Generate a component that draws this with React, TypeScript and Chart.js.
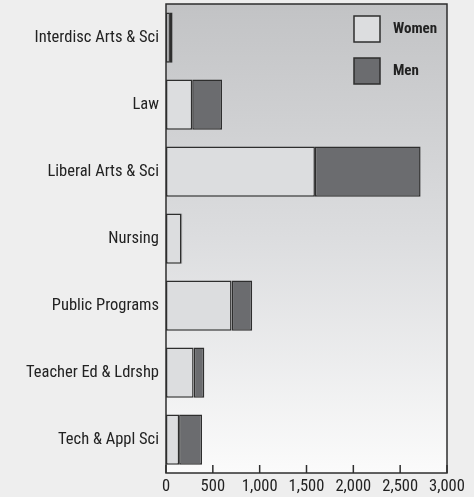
import React, { useEffect, useRef } from "react";
import { Chart, registerables } from "chart.js";

Chart.register(...registerables);

const categories = [
  "Interdisc Arts & Sci",
  "Law",
  "Liberal Arts & Sci",
  "Nursing",
  "Public Programs",
  "Teacher Ed & Ldrshp",
  "Tech & Appl Sci",
];
const women = [42, 280, 1590, 165, 700, 295, 140];
const men = [28, 318, 1128, 8, 220, 114, 245];
const xTicks = [0, 500, 1000, 1500, 2000, 2500, 3000];

const FONT = "Roboto, 'DejaVu Sans Condensed', sans-serif";
const WOMEN_COLOR = "#dcdddf";
const MEN_COLOR = "#6b6c6f";
const EDGE = "#2e2e2e";
const TEXT = "#222222";

const bgPlugin = {
  id: "bgPlugin",
  beforeDraw(chart: any) {
    const { ctx, chartArea } = chart;
    if (!chartArea) return;
    const { left, top, right, bottom } = chartArea;
    const g = ctx.createLinearGradient(0, top, 0, bottom);
    g.addColorStop(0, "#c2c3c5");
    g.addColorStop(0.5, "#dcdddf");
    g.addColorStop(1, "#fbfbfb");
    ctx.save();
    ctx.fillStyle = g;
    ctx.fillRect(left, top, right - left, bottom - top);
    ctx.restore();
  },
  afterDraw(chart: any) {
    const { ctx, chartArea, scales } = chart;
    const { left, top, right, bottom } = chartArea;
    ctx.save();
    ctx.strokeStyle = EDGE;
    ctx.lineWidth = 1.5;
    xTicks.forEach((v) => {
      const x = scales.x.getPixelForValue(v);
      ctx.beginPath();
      ctx.moveTo(x, bottom);
      ctx.lineTo(x, bottom - 8);
      ctx.stroke();
    });
    ctx.strokeRect(left, top, right - left, bottom - top);
    const items = chart.data.datasets;
    const boxX = 354;
    const boxS = 26;
    items.forEach((ds: any, i: number) => {
      const y = 16 + i * 42;
      ctx.fillStyle = ds.backgroundColor;
      ctx.fillRect(boxX, y, boxS, boxS);
      ctx.lineWidth = 1.5;
      ctx.strokeStyle = EDGE;
      ctx.strokeRect(boxX, y, boxS, boxS);
      ctx.fillStyle = TEXT;
      ctx.font = `bold condensed 15px ${FONT}`;
      ctx.textBaseline = "middle";
      ctx.textAlign = "left";
      ctx.fillText(ds.label, 393, y + boxS / 2);
    });
    ctx.restore();
  },
};

export default function App() {
  const ref = useRef<HTMLCanvasElement>(null);
  useEffect(() => {
    document.body.style.margin = "0";
    document.body.style.background = "#eeeeee";
    const chart = new Chart(ref.current!, {
      type: "bar",
      data: {
        labels: categories,
        datasets: [
          {
            label: "Women",
            data: women,
            backgroundColor: WOMEN_COLOR,
            borderColor: EDGE,
            borderWidth: 1.5,
            borderSkipped: false,
            barPercentage: 0.75,
            categoryPercentage: 1,
          },
          {
            label: "Men",
            data: men,
            backgroundColor: MEN_COLOR,
            borderColor: EDGE,
            borderWidth: 1.5,
            borderSkipped: false,
            barPercentage: 0.75,
            categoryPercentage: 1,
          },
        ],
      },
      options: {
        indexAxis: "y",
        animation: false,
        responsive: false,
        maintainAspectRatio: false,
        layout: { padding: { left: 0, right: 27, top: 4, bottom: 0 } },
        plugins: { legend: { display: false }, tooltip: { enabled: false } },
        scales: {
          x: {
            stacked: true,
            min: 0,
            max: 3000,
            afterBuildTicks(scale: any) {
              scale.ticks = xTicks.map((v) => ({ value: v }));
            },
            afterFit(scale: any) {
              scale.height = 24;
              scale.paddingLeft = 0;
              scale.paddingRight = 0;
            },
            grid: { display: false, drawTicks: false },
            border: { display: false },
            ticks: {
              padding: 4,
              color: TEXT,
              font: { family: FONT, size: 16.5, weight: "condensed" as any },
              maxRotation: 0,
              callback: (v: any) => Number(v).toLocaleString("en-US"),
            },
          },
          y: {
            stacked: true,
            afterFit(scale: any) {
              scale.width = 166;
              scale.paddingTop = 0;
              scale.paddingBottom = 0;
            },
            grid: { display: false, drawTicks: false },
            border: { display: false },
            ticks: {
              padding: 7,
              color: TEXT,
              font: { family: FONT, size: 16.5, weight: "condensed" as any },
            },
          },
        },
      },
      plugins: [bgPlugin],
    });
    return () => chart.destroy();
  }, []);
  return (
    <div style={{ width: 474, height: 497, background: "#eeeeee" }}>
      <canvas ref={ref} width={474} height={497} style={{ display: "block" }} />
    </div>
  );
}
